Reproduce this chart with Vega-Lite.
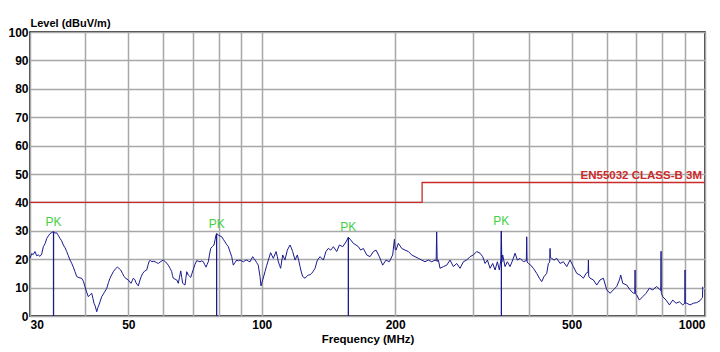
{
  "$schema": "https://vega.github.io/schema/vega-lite/v6.json",
  "width": 675,
  "height": 284,
  "autosize": "none",
  "padding": {"left": 30, "top": 32, "right": 15, "bottom": 36},
  "background": "white",
  "config": {
    "view": {"stroke": "#000000", "strokeWidth": 1.5},
    "font": "Liberation Sans",
    "axis": {"labelOverlap": false},
    "axisY": {"labelOverlap": false}
  },
  "datasets": {
    "trace": [
      {"f":30,"v":20.3},{"f":30.27,"v":22},{"f":30.5,"v":21.6},{"f":30.79,"v":22.7},{"f":31.05,"v":21.2},{"f":31.32,"v":21.5},{"f":31.6,"v":21},{"f":31.88,"v":21.8},{"f":32.15,"v":24.4},{"f":32.45,"v":25.5},{"f":32.72,"v":27.3},{"f":33.0,"v":28.2},{"f":33.29,"v":29},{"f":33.6,"v":29.4},{"f":33.86,"v":29.7},{"f":34.15,"v":29.2},{"f":34.46,"v":29.3},{"f":34.75,"v":28.4},{"f":35.06,"v":27.3},{"f":35.35,"v":26.5},{"f":35.67,"v":25},{"f":36.0,"v":24},{"f":36.3,"v":22.7},{"f":36.6,"v":21.3},{"f":36.93,"v":19.7},{"f":37.25,"v":18.6},{"f":37.57,"v":17.2},{"f":37.9,"v":15.6},{"f":38.24,"v":13.9},{"f":38.7,"v":13.5},{"f":39.24,"v":13.3},{"f":39.6,"v":12.2},{"f":39.92,"v":10.3},{"f":40.25,"v":8.5},{"f":40.61,"v":6.8},{"f":41.0,"v":7.5},{"f":41.34,"v":8},{"f":41.6,"v":6.2},{"f":41.83,"v":4.5},{"f":42.1,"v":3.5},{"f":42.43,"v":1.5},{"f":42.7,"v":3},{"f":42.93,"v":3.9},{"f":43.2,"v":5.2},{"f":43.54,"v":6.8},{"f":44.1,"v":8.2},{"f":44.69,"v":9.7},{"f":45.1,"v":11.8},{"f":45.46,"v":13.3},{"f":45.85,"v":14.5},{"f":46.25,"v":15.6},{"f":46.7,"v":16.5},{"f":47.22,"v":17.2},{"f":47.6,"v":16.8},{"f":48.06,"v":16.2},{"f":48.5,"v":15},{"f":48.89,"v":13.9},{"f":49.4,"v":13.2},{"f":49.99,"v":12.7},{"f":50.35,"v":12},{"f":50.7,"v":11.5},{"f":51.0,"v":12.4},{"f":51.31,"v":13.3},{"f":51.76,"v":12.7},{"f":52.03,"v":11.7},{"f":52.3,"v":11.2},{"f":52.66,"v":10.6},{"f":53.13,"v":12.7},{"f":53.5,"v":14},{"f":53.88,"v":15},{"f":54.4,"v":15.8},{"f":55.01,"v":16.2},{"f":55.4,"v":18},{"f":55.76,"v":19.4},{"f":56.1,"v":19.6},{"f":56.46,"v":19.1},{"f":56.9,"v":19.3},{"f":57.44,"v":19.1},{"f":57.9,"v":18.8},{"f":58.43,"v":18.5},{"f":59.2,"v":19.2},{"f":59.96,"v":19.7},{"f":60.7,"v":19},{"f":61.54,"v":17.9},{"f":62.1,"v":16.8},{"f":62.64,"v":15.6},{"f":62.9,"v":14.2},{"f":63.16,"v":13.3},{"f":63.7,"v":13},{"f":64.29,"v":12.7},{"f":64.82,"v":11.5},{"f":65.2,"v":13.5},{"f":65.64,"v":15.9},{"f":66.0,"v":13.5},{"f":66.32,"v":11.5},{"f":66.7,"v":11.2},{"f":67.12,"v":10.9},{"f":67.4,"v":13.2},{"f":67.72,"v":15.6},{"f":68.28,"v":14.4},{"f":68.7,"v":14},{"f":69.14,"v":13.6},{"f":69.6,"v":15},{"f":70.08,"v":16.4},{"f":70.7,"v":18.2},{"f":71.33,"v":19.5},{"f":71.9,"v":19.3},{"f":72.56,"v":19.1},{"f":73.2,"v":19.4},{"f":73.81,"v":19.1},{"f":74.3,"v":18.2},{"f":74.86,"v":17.2},{"f":75.3,"v":18.2},{"f":75.76,"v":19.1},{"f":76.2,"v":21.5},{"f":76.71,"v":23.8},{"f":77.4,"v":24.5},{"f":78.03,"v":25},{"f":78.5,"v":27},{"f":78.85,"v":28.5},{"f":79.1,"v":29},{"f":79.8,"v":28.5},{"f":80.5,"v":28.2},{"f":81.22,"v":27.9},{"f":81.9,"v":27},{"f":82.62,"v":26.1},{"f":83.3,"v":25.2},{"f":84.05,"v":24.4},{"f":84.8,"v":22.6},{"f":85.55,"v":20.9},{"f":85.9,"v":19.4},{"f":86.26,"v":17.9},{"f":87.0,"v":18.8},{"f":87.8,"v":19.7},{"f":88.5,"v":19.4},{"f":89.32,"v":19.7},
      {"f":90.9,"v":19.1},{"f":91.7,"v":19.5},{"f":92.5,"v":19.7},{"f":93.3,"v":19.3},{"f":94.1,"v":19.1},{"f":95.4,"v":20.9},{"f":96.0,"v":20.2},{"f":96.6,"v":19.7},{"f":97.4,"v":18.8},{"f":98.2,"v":17.9},{"f":99.1,"v":13.9},{"f":99.6,"v":10.6},{"f":100.5,"v":12.7},{"f":101.7,"v":15.6},{"f":102.6,"v":17.8},{"f":103.5,"v":19.7},{"f":104.7,"v":22.3},{"f":105.5,"v":21.2},{"f":106.2,"v":20.3},{"f":107.7,"v":22.7},{"f":108.4,"v":21},{"f":109.0,"v":19.1},{"f":109.7,"v":17.8},{"f":110.3,"v":16.8},{"f":111.5,"v":21.5},{"f":112.8,"v":19.7},{"f":114.2,"v":23.2},{"f":115.8,"v":25},{"f":116.6,"v":24},{"f":117.4,"v":22.7},{"f":118.9,"v":19.7},{"f":120.3,"v":21.5},{"f":121.2,"v":19.5},{"f":122.0,"v":17.4},{"f":122.8,"v":15.5},{"f":123.7,"v":13.9},{"f":125.2,"v":13.3},{"f":126.3,"v":14},{"f":127.4,"v":14.4},{"f":128.5,"v":14.5},{"f":129.6,"v":15},{"f":130.7,"v":15.8},{"f":131.9,"v":16.8},{"f":133.5,"v":19.7},{"f":135.4,"v":20.9},{"f":137.7,"v":19.7},{"f":139.6,"v":22.7},{"f":141.3,"v":23.8},{"f":143.1,"v":23.2},{"f":145.1,"v":24.4},{"f":147.6,"v":22.7},{"f":149.7,"v":25},{"f":152.3,"v":24.4},{"f":154.9,"v":26.1},{"f":156.8,"v":27.7},{"f":158.7,"v":26.8},{"f":160.9,"v":25.6},{"f":163.2,"v":25},{"f":165.2,"v":24.4},{"f":167.2,"v":23.2},{"f":169.5,"v":23.8},{"f":172.5,"v":21.5},{"f":175.5,"v":20.9},{"f":178.6,"v":22.7},{"f":181.1,"v":23.2},{"f":184.2,"v":20.9},{"f":187.4,"v":17.9},{"f":190.7,"v":19.7},{"f":194.0,"v":19.1},{"f":197.4,"v":21.5},{"f":199.2,"v":27},{"f":200.0,"v":23.5},{"f":200.9,"v":23.2},{"f":203.3,"v":25.6},{"f":206.9,"v":23.8},{"f":210.5,"v":23.2},{"f":214.2,"v":22.7},{"f":217.9,"v":21.5},{"f":221.7,"v":20.9},{"f":225.6,"v":20.3},{"f":229.5,"v":19.7},{"f":233.5,"v":19.1},{"f":237.6,"v":19.7},{"f":241.8,"v":19.1},{"f":246.0,"v":19.7},{"f":247.4,"v":19.4},{"f":248.1,"v":29.6},{"f":248.8,"v":19.2},{"f":250.3,"v":19.7},{"f":252.5,"v":16.8},{"f":256.9,"v":17.4},{"f":261.4,"v":17.9},{"f":265.9,"v":19.7},{"f":270.6,"v":17.4},{"f":275.3,"v":18.5},{"f":280.1,"v":16.8},{"f":285.0,"v":19.1},{"f":290.0,"v":19.7},{"f":295.1,"v":20.9},{"f":300.2,"v":21.5},{"f":305.5,"v":22.7},
      {"f":310.8,"v":22.1},{"f":315.1,"v":20.9},{"f":319.0,"v":18.5},{"f":322.9,"v":19.7},{"f":327.4,"v":16.8},{"f":331.9,"v":18.5},{"f":336.0,"v":16.2},{"f":340.1,"v":19.1},{"f":343.6,"v":16.2},{"f":346.5,"v":20},{"f":347.2,"v":29.9},{"f":348.0,"v":19},{"f":349.6,"v":21.5},{"f":353.9,"v":17.4},{"f":358.2,"v":19.1},{"f":363.2,"v":17.4},{"f":368.3,"v":19.7},{"f":372.8,"v":22.1},{"f":377.3,"v":19.7},{"f":382.6,"v":20.3},{"f":389.3,"v":19.1},{"f":395.3,"v":19.5},{"f":396.1,"v":27.9},{"f":396.9,"v":19.0},{"f":399.5,"v":18.5},{"f":404.4,"v":17.9},{"f":410.0,"v":16.8},{"f":417.2,"v":15},{"f":423.0,"v":13.3},{"f":428.2,"v":12.1},{"f":433.4,"v":13.9},{"f":439.4,"v":15},{"f":443.3,"v":18.5},{"f":446.3,"v":19},{"f":447.1,"v":23.8},{"f":448.0,"v":20.5},{"f":451.0,"v":20.3},{"f":456.5,"v":19.7},{"f":462.9,"v":20.3},{"f":471.0,"v":18.5},{"f":479.2,"v":19.1},{"f":487.6,"v":17.4},{"f":496.1,"v":19.7},{"f":504.7,"v":17.4},{"f":513.6,"v":15},{"f":522.5,"v":14.4},{"f":531.7,"v":13.3},{"f":539.1,"v":15},{"f":544.8,"v":15.5},{"f":545.7,"v":19.7},{"f":546.6,"v":14},{"f":550.4,"v":13.3},{"f":560.0,"v":12.7},{"f":569.8,"v":10.9},{"f":579.8,"v":12.7},{"f":589.9,"v":13.3},{"f":600.2,"v":9.2},{"f":610.7,"v":8},{"f":621.3,"v":9.2},{"f":632.2,"v":10.4},{"f":641.0,"v":12.7},{"f":645.5,"v":14.4},{"f":652.2,"v":11.5},{"f":665.9,"v":10.9},{"f":677.5,"v":9.2},{"f":689.4,"v":8},{"f":694.5,"v":8},{"f":695.4,"v":16.2},{"f":696.4,"v":7.8},{"f":701.4,"v":7.4},{"f":711.2,"v":5.6},{"f":723.6,"v":6.8},{"f":736.3,"v":8},{"f":749.1,"v":9.8},{"f":762.2,"v":9.2},{"f":778.2,"v":10.4},{"f":791.8,"v":9.2},{"f":794.8,"v":9},{"f":795.9,"v":22.8},{"f":797.0,"v":8},{"f":802.9,"v":6.8},{"f":816.9,"v":5.6},{"f":831.2,"v":3.9},{"f":845.7,"v":5.6},{"f":860.5,"v":4.5},{"f":875.5,"v":5},{"f":890.8,"v":3.9},{"f":900.5,"v":4.5},{"f":901.6,"v":16.2},{"f":902.7,"v":4.5},{"f":909.5,"v":4.5},{"f":925.4,"v":3.9},{"f":941.5,"v":4.5},{"f":958.0,"v":4.7},{"f":974.7,"v":5.4},{"f":983.2,"v":6.2},{"f":987,"v":6.5},{"f":988.3,"v":10.3}
    ],
    "limit": [
      {"i":1,"f":30,"v":40},{"i":2,"f":230,"v":40},{"i":3,"f":230,"v":47},{"i":4,"f":1000,"v":47}
    ],
    "peaks": [
      {"f":33.9,"v":29.7,"b":0,"t":"PK"},{"f":79.1,"v":29,"b":0,"t":"PK"},{"f":156.8,"v":27.7,"b":0,"t":"PK"},{"f":347.2,"v":29.9,"b":0,"t":"PK"}
    ],
    "limitlabel": [
      {"f":1000,"v":47,"t":"EN55032 CLASS-B 3M"}
    ]
  },
  "encoding": {
    "x": {
      "field": "f", "type": "quantitative",
      "scale": {"type": "log", "domain": [30, 1000], "nice": false},
      "axis": {
        "values": [30,40,50,60,70,80,90,100,200,300,400,500,600,700,800,900,1000],
        "labelExpr": "(datum.value==30||datum.value==50||datum.value==100||datum.value==200||datum.value==500||datum.value==1000) ? '' + datum.value : ''",
        "labelFlush": true,
        "labelOverlap": false,
        "labelFontSize": 12,
        "labelFontWeight": "bold",
        "labelColor": "#000000",
        "labelPadding": 3,
        "ticks": false,
        "domain": false,
        "grid": true,
        "gridColor": "#a8a8a8",
        "gridWidth": 1.5,
        "title": "Frequency (MHz)",
        "titleFontSize": 11.5,
        "titleFontWeight": "bold",
        "titleColor": "#000000",
        "titlePadding": 3
      }
    },
    "y": {
      "field": "v", "type": "quantitative",
      "scale": {"domain": [0, 100], "nice": false},
      "axis": {
        "values": [0,10,20,30,40,50,60,70,80,90,100],
        "labelExpr": "'' + datum.value",
        "labelOverlap": false,
        "labelFlush": false,
        "labelFontSize": 12,
        "labelFontWeight": "bold",
        "labelColor": "#000000",
        "labelPadding": 2,
        "ticks": false,
        "domain": false,
        "grid": true,
        "gridColor": "#a8a8a8",
        "gridWidth": 1.5,
        "title": "Level (dBuV/m)",
        "titleAngle": 0,
        "titleAlign": "left",
        "titleBaseline": "bottom",
        "titleX": 0,
        "titleY": -4,
        "titleFontSize": 11,
        "titleFontWeight": "bold",
        "titleColor": "#000000"
      }
    }
  },
  "layer": [
    {
      "data": {"name": "limit"},
      "mark": {"type": "line", "color": "#cc2a2a", "strokeWidth": 1.3},
      "encoding": {
        "order": {"field": "i", "type": "quantitative"}
      }
    },
    {
      "data": {"name": "trace"},
      "mark": {"type": "line", "color": "#1a1a8e", "strokeWidth": 1},
      "encoding": {}
    },
    {
      "data": {"name": "peaks"},
      "mark": {"type": "rule", "color": "#1a1a8e", "strokeWidth": 1.3},
      "encoding": {
        "y2": {"field": "b"}
      }
    },
    {
      "data": {"name": "peaks"},
      "mark": {"type": "text", "color": "#44d044", "fontSize": 12, "baseline": "bottom", "align": "center", "dy": -3},
      "encoding": {
        "text": {"field": "t", "type": "nominal"}
      }
    },
    {
      "data": {"name": "limitlabel"},
      "mark": {"type": "text", "color": "#cc2a2a", "fontSize": 11.5, "fontWeight": "bold", "baseline": "bottom", "align": "right", "dx": -3, "dy": -2},
      "encoding": {
        "text": {"field": "t", "type": "nominal"}
      }
    }
  ]
}
